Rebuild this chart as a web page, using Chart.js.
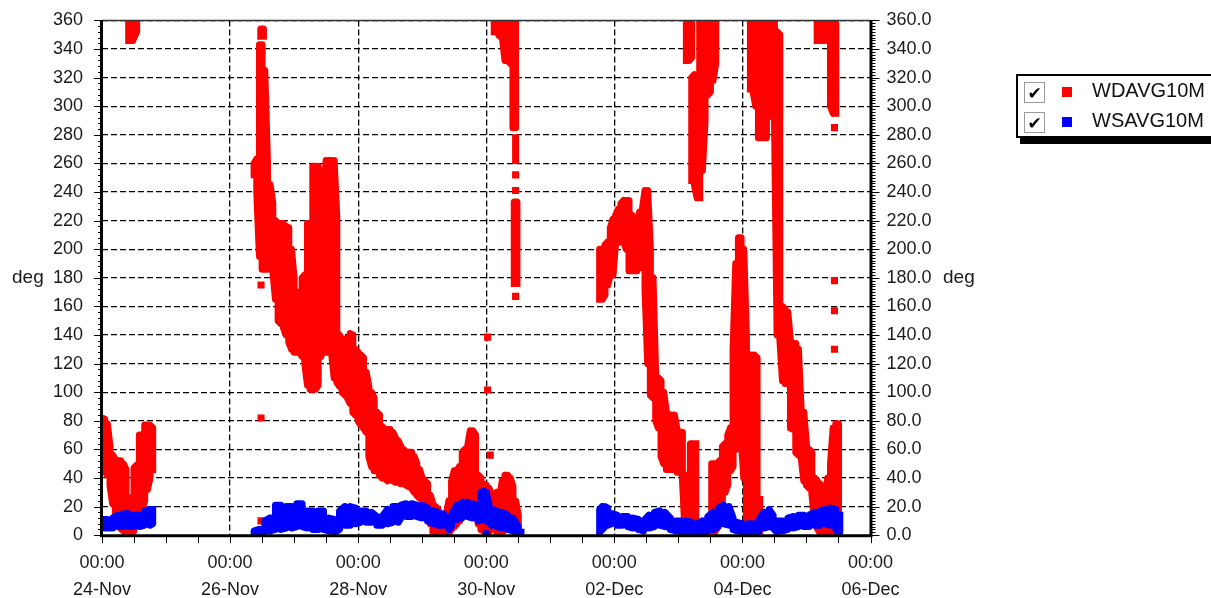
<!DOCTYPE html>
<html>
<head>
<meta charset="utf-8">
<script src="https://cdn.jsdelivr.net/npm/chart.js@4"></script>
<style>
  body { margin: 0; background: #fff; overflow: hidden; }
  #wrap { position: relative; width: 1211px; height: 598px; }
  #legend { position: absolute; left: 1016px; top: 74px; width: 220px; height: 60px; border: 2px solid #000;
            background: #fff; box-shadow: 4px 6px 0 #000; font: 20px "Liberation Sans", Arial, sans-serif; color: #111; }
  .box { position: absolute; left: 6px; width: 19px; height: 19px; border: 1px solid #9a9a9a; background: #fff;
         font: bold 17px "DejaVu Sans", sans-serif; line-height: 20px; text-align: center; color: #000; }
  .sw { position: absolute; left: 44px; width: 10px; height: 10px; }
  .lbl { position: absolute; left: 74px; line-height: 20px; white-space: nowrap; }
</style>
</head>
<body>
<div id="wrap">
  <canvas id="windChart"></canvas>
  <div id="legend">
    <div class="box" style="top:6px">✔</div><div class="sw" style="top:11px;background:#ff0000"></div><div class="lbl" style="top:4px">WDAVG10M</div>
    <div class="box" style="top:36px">✔</div><div class="sw" style="top:41px;background:#0000ff"></div><div class="lbl" style="top:34px">WSAVG10M</div>
  </div>
</div>
<script>
// hours since 24-Nov 00:00, band low / high per time; null breaks a band
var xDayLabels = ['24-Nov', '26-Nov', '28-Nov', '30-Nov', '02-Dec', '04-Dec', '06-Dec'];

var wdHours = [
  0, 1, 2, 3, 4, 5, 6, 7, 8, 9, 10, 11, 12, 13, 14, 15, 16, 17, 18, 19, null,
  10, 11.5, 13, null,
  59.5, 60.5, null,
  57, 58, 59, 60, 61, 62, 63, 64, 65, 66,
  67, 68, 69, 70, 71, 72, 73, 74, 75, 76,
  77, 78, 79, 80, 81, 82, 83, 84, 85, 86,
  87, 88, 89, 90, 91, 92, 93, 94, 95, 96,
  97, 98, 99, 100, 101, 102, 103, 104, 105, 106,
  107, 108, 109, 110, 111, 112, 113, 114, 115, 116,
  117, 118, 119, 120, 121, 122, 123, 124, 125, 126,
  127, 128, 129, 130, 131, 132, 133, 134, 135, 136,
  137, 138, 139, 140, 141, 142, 143, 144, 145, 146,
  147, 148, 149, 150, 151, 152, 153, 154, 155, 156, null,
  147, 148, 149, 150, 151, 152, 153, 154, 155, null,
  155, null,
  154.5, 155.5, null,
  186.5, 187.5, 188.5, 189.5, 190.5, 191.5, 192.5, 193.5, 194.5, 195.5,
  196.5, 197.5, 198.5, 199.5, 200.5, 201.5, 202.5, 203.5, 204.5, 205.5,
  206.5, 207.5, 208.5, 209.5, 210.5, 211.5, 212.5, 213.5, 214.5, 215.5,
  216.5, 217.5, 218.5, 219.5, 220.5, 221.5, 222.5, null,
  219, 220, 221, null,
  221, 222, 223, 224, null,
  224, 225, 226, 227, 228, 229, 230, null,
  228.5, 229.5, 230.5, 231.5, 232.5, 233.5, 234.5, 235.5, 236.5, 237.5,
  238.5, 239.5, 240.5, 241.5, 242.5, 243.5, 244.5, 245.5, 246.5, null,
  243, 244, 245, 246, 247, 248, 249, 250, 251, 252,
  253, 254, 255, 256, 257, 258, 259, 260, 261, 262,
  263, 264, 265, 266, 267, 268, 269, 270, 271, 272,
  273, 274, 275, 276, null,
  268, 269, 270, 271, 272, 273, 274, 275
];
var wdLow = [
  50, 45, 42, 35, 22, 12, 8, 5, 3, 2, 2, 2, 3, 8, 14, 18, 24, 32, 40, 46, null,
  346, 346, 352, null,
  349, 349, null,
  252, 240, 195, 186, 186, 186, 190, 185, 165, 150,
  148, 145, 140, 135, 130, 128, 128, 128, 125, 120,
  105, 102, 102, 102, 105, 125, 130, 128, 128, 128,
  110, 107, 104, 100, 98, 96, 92, 86, 84, 80,
  77, 75, 72, 55, 48, 45, 45, 42, 40, 40,
  38, 40, 38, 37, 37, 36, 36, 35, 34, 33,
  30, 28, 26, 24, 22, 20, 8, 2, 1, 1,
  1, 1, 1, 2, 4, 6, 8, 10, 14, 16,
  18, 20, 20, 18, 8, 4, 3, 2, 2, 4,
  5, 2, 1, 2, 4, 8, 10, 5, 2, 1, null,
  352, 352, 349, 349, 332, 332, 330, 285, 285, null,
  262, null,
  176, 176, null,
  165, 165, 168, 175, 182, 182, 205, 205, 205, 205,
  200, 185, 185, 185, 185, 187, 190, 172, 120, 98,
  96, 80, 75, 55, 50, 46, 46, 46, 46, 44,
  44, 40, 2, 1, 1, 1, 1, null,
  332, 332, 334, null,
  248, 245, 236, 236, null,
  258, 255, 290, 308, 310, 318, 330, null,
  2, 2, 5, 12, 25, 30, 35, 45, 48, 60,
  68, 70, 40, 10, 5, 5, 5, 5, 2, null,
  312, 310, 300, 278, 278, 278, 278, 293, 293, 293,
  140, 138, 108, 106, 106, 75, 74, 58, 56, 55,
  38, 35, 33, 30, 10, 5, 2, 1, 1, 1,
  2, 2, 2, 2, null,
  346, 346, 346, 346, 348, 300, 295, 295
];
var wdHigh = [
  82, 81, 78, 62, 56, 53, 52, 52, 50, 46, 26, 26, 47, 49, 70, 70, 77, 77, 77, 75, null,
  360, 360, 360, null,
  354, 354, null,
  260, 263, 343, 343, 325, 262, 245, 232, 220, 218,
  218, 218, 216, 215, 200, 180, 170, 165, 180, 182,
  218, 218, 258, 258, 258, 240, 236, 262, 262, 262,
  262, 222, 140, 136, 136, 138, 141, 140, 130, 128,
  126, 124, 114, 104, 100, 96, 86, 84, 76, 74,
  74, 74, 72, 68, 66, 62, 60, 58, 58, 58,
  55, 50, 46, 40, 38, 36, 28, 22, 20, 18,
  14, 12, 14, 24, 38, 45, 45, 48, 58, 60,
  62, 73, 73, 70, 42, 40, 36, 35, 33, 28,
  26, 30, 25, 38, 42, 42, 40, 34, 24, 14, null,
  360, 360, 360, 360, 360, 360, 360, 358, 358, null,
  278, null,
  233, 233, null,
  200, 200, 203, 205, 215, 221, 224, 228, 232, 234,
  234, 234, 224, 216, 220, 226, 228, 241, 241, 200,
  180, 112, 110, 108, 100, 86, 84, 84, 84, 74,
  72, 72, 42, 42, 64, 64, 64, null,
  358, 358, 358, null,
  320, 322, 300, 262, null,
  360, 360, 360, 360, 358, 358, 358, null,
  50, 50, 50, 52, 62, 64, 70, 75, 130, 190,
  208, 208, 200, 140, 126, 126, 126, 124, 25, null,
  360, 360, 360, 360, 360, 360, 360, 360, 360, 360,
  352, 350, 160, 158, 156, 136, 134, 134, 130, 88,
  86, 63, 60, 58, 40, 38, 36, 30, 30, 40,
  50, 75, 78, 78, null,
  360, 360, 360, 360, 360, 360, 360, 358
];
var wdSpotHours = [59.6, 59.6, 59.6, 144.5, 144.5, 145.5, 155, 155, 155, 274.5, 274.5, 274.5, 274.5];
var wdSpotValues = [82, 175, 10, 138.5, 101.5, 56, 252, 241, 167, 285, 178, 157, 130];

var wsHours = [
  0, 2, 4, 6, 8, 10, 12, 14, 16, 18, 19, null,
  57, 59, 61, 63, 65, 67, 69, 71, 73, 75,
  77, 79, 81, 83, 85, 87, 89, 91, 93, 95,
  97, 99, 101, 103, 105, 107, 109, 111,
  112, 114, 116, 118, 120, 122, 124, 126, 128,
  130, 131, 133, 135, 137, 139, 141,
  142, 143, 144, 145, 146, 148, 150, 152, 154, 156, 157, null,
  186.5, 187.5, 188.5, 189.5, 191, 193, 195, 197, 199, 201,
  203, 205, 207, 209, 211, 213, 215, 217, 219, 221,
  223, 225, 227, 229, 231, 233, 235, 236.5, 238, 240,
  242, 244, 246, 248, 250, 251.5, 253, 255, 257, 259,
  261, 263, 265, 267, 269, 271, 273, 275, 276.5
];
var wsLow = [
  5, 5, 5, 6, 6, 6, 6, 6, 7, 7, 8, null,
  0, 1, 2, 3, 4, 4, 5, 5, 6, 6,
  5, 4, 4, 4, 3, 2, 4, 7, 7, 8,
  9, 9, 9, 7, 7, 8, 9, 9,
  12, 13, 13, 13, 12, 10, 8, 7, 7,
  4, 6, 11, 12, 13, 12, 10,
  11, 11, 10, 9, 7, 6, 5, 4, 3, 1, 0, null,
  0, 4, 6, 7, 8, 7, 7, 6, 5, 4,
  3, 5, 6, 7, 6, 4, 3, 2, 2, 2,
  2, 2, 3, 4, 6, 8, 7, 4, 3, 2,
  2, 2, 2, 5, 6, 5, 2, 3, 4, 5,
  6, 6, 6, 7, 7, 8, 7, 4, 2
];
var wsHigh = [
  11, 11, 12, 14, 15, 15, 14, 14, 17, 18, 18, null,
  3, 4, 10, 12, 21, 21, 20, 20, 22, 22,
  17, 17, 17, 17, 12, 11, 17, 20, 20, 19,
  17, 17, 16, 13, 13, 18, 20, 20,
  21, 22, 22, 21, 21, 19, 17, 16, 15,
  9, 14, 21, 23, 23, 22, 20,
  30, 31, 30, 22, 18, 17, 16, 14, 12, 6, 2, null,
  18, 20, 20, 19, 15, 14, 13, 13, 12, 11,
  10, 14, 16, 17, 16, 12, 10, 10, 10, 9,
  8, 10, 13, 16, 19, 21, 20, 12, 9, 8,
  8, 8, 10, 16, 18, 14, 10, 10, 12, 13,
  14, 14, 14, 16, 17, 18, 19, 18, 14
];
var wsSpotHours = [144];
var wsSpotValues = [1];

// each time gives a vertical run low..high, joined into one thick snake
function bandPoints(hours, lo, hi) {
  var pts = [];
  var up = true;
  var last = 0;
  for (var i = 0; i < hours.length; i++) {
    if (hours[i] === null) {
      pts.push({ x: last, y: null });
      up = true;
      continue;
    }
    last = hours[i];
    var a = { x: hours[i], y: lo[i] };
    var b = { x: hours[i], y: hi[i] };
    if (up) { pts.push(a, b); } else { pts.push(b, a); }
    up = !up;
  }
  return pts;
}

function spotPoints(hours, values) {
  return hours.map(function (h, i) { return { x: h, y: values[i] }; });
}

function bandSet(data, color, order) {
  return {
    data: data, borderColor: color, backgroundColor: color, borderWidth: 7,
    borderCapStyle: 'square', borderJoinStyle: 'round', pointRadius: 0,
    tension: 0, spanGaps: false, clip: 0, order: order
  };
}

function spotSet(data, color, order) {
  return {
    data: data, showLine: false, pointStyle: 'rect', pointRadius: 5, pointBorderWidth: 0,
    backgroundColor: color, borderColor: color, clip: 0, order: order
  };
}

// no label overflow padding, so the plot box sits where the reference has it
function noPad(s) {
  s.paddingTop = 0;
  s.paddingBottom = 0;
}

var frameAndTicks = {
  id: 'frameAndTicks',
  afterDraw: function (chart) {
    var ctx = chart.ctx;
    var ca = chart.chartArea;
    var y = chart.scales.y;
    var x = chart.scales.x;
    ctx.save();
    ctx.strokeStyle = '#000';
    ctx.lineWidth = 1;
    ctx.beginPath();
    for (var v = 0; v <= 360; v += 4) {
      var py = Math.round(y.getPixelForValue(v)) + 0.5;
      ctx.moveTo(ca.left - (v % 20 === 0 ? 8 : 4), py);
      ctx.lineTo(ca.left, py);
    }
    for (var w = 0; w <= 360; w += 2) {
      var qy = Math.round(y.getPixelForValue(w)) + 0.5;
      ctx.moveTo(ca.right, qy);
      ctx.lineTo(ca.right + (w % 20 === 0 ? 9 : 5), qy);
    }
    for (var h = 0; h <= 288; h += 12) {
      var px = Math.round(x.getPixelForValue(h)) + 0.5;
      ctx.moveTo(px, ca.bottom);
      ctx.lineTo(px, ca.bottom + 8);
    }
    ctx.stroke();

    ctx.lineWidth = 1.5;
    ctx.strokeStyle = '#333';
    ctx.beginPath();
    ctx.moveTo(ca.left, ca.top);
    ctx.lineTo(ca.right, ca.top);
    ctx.stroke();

    ctx.lineWidth = 3;
    ctx.strokeStyle = '#000';
    ctx.beginPath();
    ctx.moveTo(ca.left - 0.5, ca.top);
    ctx.lineTo(ca.left - 0.5, ca.bottom + 0.5);
    ctx.lineTo(ca.right + 0.5, ca.bottom + 0.5);
    ctx.lineTo(ca.right + 0.5, ca.top);
    ctx.stroke();

    ctx.fillStyle = '#1a1a1a';
    ctx.font = '19px "Liberation Sans", Arial, sans-serif';
    ctx.textBaseline = 'middle';
    ctx.textAlign = 'left';
    var my = y.getPixelForValue(180);
    ctx.fillText('deg', 12, my);
    ctx.fillText('deg', 943, my);
    ctx.restore();
  }
};

Chart.defaults.font.family = '"Liberation Sans", Arial, sans-serif';
Chart.defaults.font.size = 18;
Chart.defaults.color = '#1a1a1a';

var ctx = document.getElementById('windChart').getContext('2d');
var windChart = new Chart(ctx, {
  type: 'line',
  data: {
    datasets: [
      bandSet(bandPoints(wdHours, wdLow, wdHigh), '#ff0000', 4),
      spotSet(spotPoints(wdSpotHours, wdSpotValues), '#ff0000', 3),
      bandSet(bandPoints(wsHours, wsLow, wsHigh), '#0000ff', 2),
      spotSet(spotPoints(wsSpotHours, wsSpotValues), '#0000ff', 1)
    ]
  },
  options: {
    responsive: true,
    maintainAspectRatio: false,
    animation: false,
    events: [],
    layout: { padding: { top: 20.4, left: 0, right: 0, bottom: 0 } },
    plugins: { legend: { display: false }, tooltip: { enabled: false } },
    scales: {
      x: {
        type: 'linear', min: 0, max: 288,
        afterFit: function (s) { s.height = 62.8; s.paddingLeft = 0; s.paddingRight = 0; },
        ticks: {
          stepSize: 48, padding: 14, maxRotation: 0, autoSkip: false,
          font: { size: 18, lineHeight: 1.5 },
          callback: function (v) { return ['00:00', xDayLabels[v / 48]]; }
        },
        grid: { color: '#000', lineWidth: 1.3, drawTicks: false },
        border: { display: false, dash: [6, 3] }
      },
      y: {
        position: 'left', min: 0, max: 360,
        afterFit: function (s) { s.width = 102; noPad(s); },
        ticks: { stepSize: 20, padding: 19 },
        grid: { color: '#000', lineWidth: 1.3, drawTicks: false },
        border: { display: false, dash: [6, 3] }
      },
      y2: {
        position: 'right', min: 0, max: 360,
        afterFit: function (s) { s.width = 340.5; noPad(s); },
        ticks: { stepSize: 20, padding: 16, callback: function (v) { return v.toFixed(1); } },
        grid: { display: false, drawTicks: false },
        border: { display: false }
      }
    }
  },
  plugins: [frameAndTicks]
});
</script>
</body>
</html>
